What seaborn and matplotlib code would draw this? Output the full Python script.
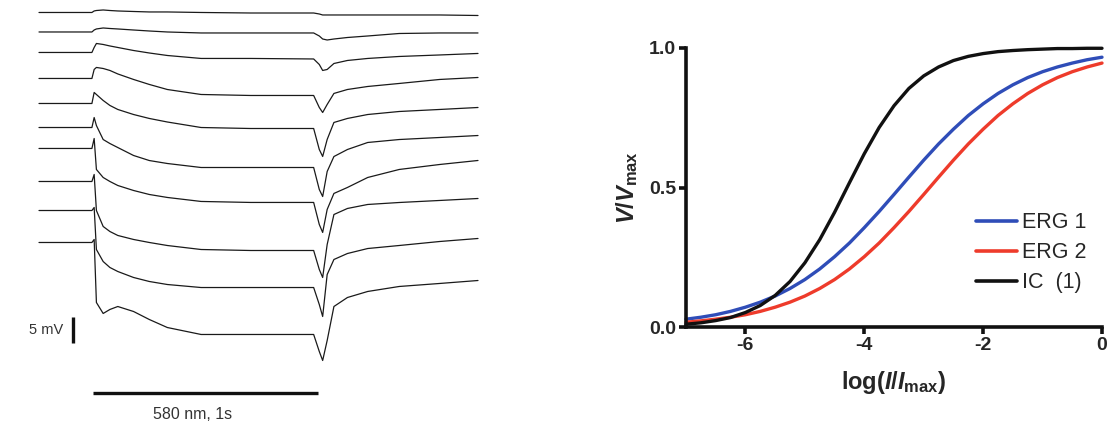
import matplotlib
matplotlib.use("Agg")
import matplotlib.pyplot as plt
from matplotlib.lines import Line2D
import pandas as pd
import seaborn as sns

# ---------------- Data: left panel (ERG traces, mV relative to each trace baseline) -------------
trace_time = [-0.24, -0.005, 0.005, 0.015, 0.045, 0.075, 0.11, 0.18, 0.25, 0.33, 0.48, 0.70,
              0.98, 1.005, 1.02, 1.04, 1.07, 1.13, 1.22, 1.36, 1.54, 1.71]
trace_1 = [0, 0, 0.29, 0.38, 0.48, 0.38, 0.29, 0.19, 0.10, 0.10, 0, -0.10, -0.10, -0.29, -0.48,
           -0.48, -0.48, -0.48, -0.48, -0.48, -0.48, -0.58]
trace_2 = [0, 0, 0.38, 0.58, 0.77, 0.67, 0.58, 0.38, 0.19, 0, -0.19, -0.19, -0.19, -0.77, -1.35,
           -1.54, -1.35, -1.06, -0.77, -0.29, -0.19, -0.19]
trace_3 = [0, 0, 0.96, 1.73, 1.54, 1.25, 0.96, 0.38, -0.10, -0.58, -1.15, -1.15, -1.25, -2.31,
           -3.46, -3.27, -2.12, -1.54, -1.15, -0.77, -0.48, -0.19]
trace_4 = [0, 0, 1.73, 2.12, 1.92, 1.54, 0.87, -0.19, -1.15, -2.12, -3.08, -3.27, -3.27, -5.58,
           -6.54, -5.00, -2.88, -2.12, -1.54, -0.96, -0.19, 0.19]
trace_5 = [0, 0, 2.12, 1.73, 0.58, -0.38, -1.15, -2.12, -2.88, -3.56, -4.62, -4.81, -4.81, -8.85,
           -10.19, -6.92, -3.65, -2.88, -2.12, -1.54, -1.15, -0.77]
trace_6 = [0, 0, 1.92, 0.38, -2.31, -3.08, -3.85, -5.38, -6.35, -6.92, -7.69, -7.69, -7.69,
           -11.92, -13.27, -8.46, -5.58, -4.23, -2.88, -2.31, -1.92, -1.54]
trace_7 = [0, 0, 1.92, -4.04, -5.58, -6.35, -7.12, -8.08, -8.85, -9.42, -10.19, -10.38, -10.38,
           -14.62, -16.15, -11.73, -8.65, -7.50, -5.58, -4.04, -3.08, -2.31]
trace_8 = [0, 0, 1.35, -5.58, -8.65, -9.62, -10.38, -11.15, -11.73, -12.31, -13.08, -13.27,
           -13.27, -16.92, -18.46, -12.12, -6.35, -5.19, -4.42, -4.04, -3.65, -3.27]
trace_9 = [0, 0, 0.58, -7.50, -9.81, -10.96, -11.73, -12.88, -13.65, -14.23, -14.81, -14.81,
           -14.81, -18.08, -20.38, -12.31, -9.42, -8.27, -7.31, -6.73, -5.96, -5.38]
trace_10 = [0, 0, 0.58, -11.54, -13.65, -12.88, -12.31, -13.27, -14.81, -16.35, -17.69, -17.69,
            -17.69, -20.96, -22.69, -18.85, -12.31, -10.58, -9.42, -8.46, -7.88, -7.31]
traces = [trace_1, trace_2, trace_3, trace_4, trace_5, trace_6, trace_7, trace_8, trace_9, trace_10]
trace_offsets = [0, -3.75, -7.69, -12.69, -17.5, -22.12, -26.15, -32.5, -38.08, -44.23]
scale_mv = 5
stim_duration = 1.0
stim_label = "580 nm, 1s"
scale_label = "5 mV"

# ---------------- Data: right panel (normalised response vs log intensity) -------------
log_i = [-7.0, -6.75, -6.5, -6.25, -6.0, -5.75, -5.5, -5.25, -5.0, -4.75, -4.5, -4.25, -4.0,
         -3.75, -3.5, -3.25, -3.0, -2.75, -2.5, -2.25, -2.0, -1.75, -1.5, -1.25, -1.0, -0.75,
         -0.5, -0.25, 0.0]
erg_1 = [0.028, 0.035, 0.044, 0.056, 0.071, 0.089, 0.111, 0.138, 0.170, 0.208, 0.252, 0.301,
         0.356, 0.414, 0.475, 0.537, 0.598, 0.656, 0.709, 0.758, 0.800, 0.837, 0.868, 0.894,
         0.915, 0.932, 0.946, 0.958, 0.967]
erg_2 = [0.017, 0.022, 0.028, 0.035, 0.044, 0.056, 0.071, 0.089, 0.111, 0.138, 0.170, 0.208,
         0.252, 0.301, 0.356, 0.414, 0.475, 0.537, 0.598, 0.656, 0.709, 0.758, 0.800, 0.837,
         0.868, 0.894, 0.915, 0.932, 0.946]
ic_1 = [0.010, 0.015, 0.023, 0.034, 0.052, 0.077, 0.113, 0.163, 0.230, 0.313, 0.411, 0.517,
        0.621, 0.715, 0.793, 0.855, 0.900, 0.932, 0.955, 0.970, 0.980, 0.987, 0.991, 0.994,
        0.996, 0.998, 0.998, 0.999, 0.999]
series_names = ["ERG 1", "ERG 2", "IC  (1)"]
series_colors = ["#2f4db8", "#ee3b2b", "#111111"]
x_ticks = [-6, -4, -2, 0]
y_ticks = [0.0, 0.5, 1.0]

# ---------------- Style ----------------
sns.set_theme(style="white")
plt.rcParams["font.family"] = ["Liberation Sans", "DejaVu Sans"]
plt.rcParams["mathtext.fontset"] = "custom"
plt.rcParams["mathtext.rm"] = "Liberation Sans:bold"
plt.rcParams["mathtext.bf"] = "Liberation Sans:bold"
plt.rcParams["mathtext.it"] = "Liberation Sans:italic:bold"

W, H = 1107, 422
fig = plt.figure(figsize=(W / 100, H / 100), dpi=100)
fig.patch.set_facecolor("white")

# ---------------- Left panel ----------------
ax1 = fig.add_axes([20 / W, 0, 470 / W, 1])
rows = []
for k, (tr, off) in enumerate(zip(traces, trace_offsets)):
    for t, v in zip(trace_time, tr):
        rows.append({"t": t, "v": v + off, "trace": k})
df1 = pd.DataFrame(rows)
sns.lineplot(data=df1, x="t", y="v", units="trace", estimator=None, color="#1a1a1a",
             lw=0.9, ax=ax1, legend=False)
ax1.set_xlim(-0.3244, 1.7633)
ax1.set_ylim(-78.75, 2.40)
ax1.axis("off")

# scale bar (5 mV)
sb_x, sb_top = -0.089, -58.56
ax1.plot([sb_x, sb_x], [sb_top, sb_top - scale_mv], color="#111111", lw=2.4,
         solid_capstyle="butt")
ax1.text(-0.133, sb_top - scale_mv / 2, scale_label, ha="right", va="center",
         fontsize=10.5, color="#333333")
# stimulus bar
stim_y = -73.17
ax1.plot([0, stim_duration], [stim_y, stim_y], color="#111111", lw=2.4, solid_capstyle="butt")
ax1.text(0.444, -77.3, stim_label, ha="center", va="center", fontsize=11.5, color="#333333")

# ---------------- Right panel ----------------
ax2 = fig.add_axes([686 / W, (H - 327) / H, 416 / W, 279 / H])
df2 = pd.DataFrame({
    "logI": log_i * 3,
    "V": erg_1 + erg_2 + ic_1,
    "series": [series_names[0]] * len(log_i) + [series_names[1]] * len(log_i)
              + [series_names[2]] * len(log_i),
})
sns.lineplot(data=df2, x="logI", y="V", hue="series", hue_order=series_names,
             palette=series_colors, lw=2.4, ax=ax2, legend=False)
for ln in ax2.lines:
    ln.set_clip_on(False)
ax2.set_xlim(-7, 0)
ax2.set_ylim(0, 1)
ax2.set_xticks(x_ticks)
ax2.set_xticklabels([str(v) for v in x_ticks])
ax2.set_yticks(y_ticks)
ax2.set_yticklabels([f"{v:.1f}" for v in y_ticks])
for side in ["top", "right"]:
    ax2.spines[side].set_visible(False)
for side in ["left", "bottom"]:
    ax2.spines[side].set_linewidth(2.6)
    ax2.spines[side].set_color("#111111")
ax2.tick_params(axis="both", direction="out", length=5, width=2.6, color="#111111",
                labelsize=14, pad=2, left=True, bottom=True)
for lab in ax2.get_xticklabels() + ax2.get_yticklabels():
    lab.set_fontweight("bold")
ax2.set_xlabel(r"log($I$/$I_{\rm max}$)", fontsize=17, fontweight="bold")
ax2.set_ylabel(r"$V$/$V_{\rm max}$", fontsize=17, fontweight="bold")
ax2.xaxis.set_label_coords(0.5, -0.15)
ax2.yaxis.set_label_coords(-0.11, 0.5)

handles = [Line2D([0], [0], color=c, lw=2.6) for c in series_colors]
ax2.legend(handles, series_names, loc="upper left", bbox_to_anchor=(0.697, 0.412),
           frameon=False, fontsize=15.5, handlelength=1.9, handletextpad=0.25,
           labelspacing=0.42, borderpad=0, borderaxespad=0)

fig.savefig("out.png", dpi=100, facecolor="white")
